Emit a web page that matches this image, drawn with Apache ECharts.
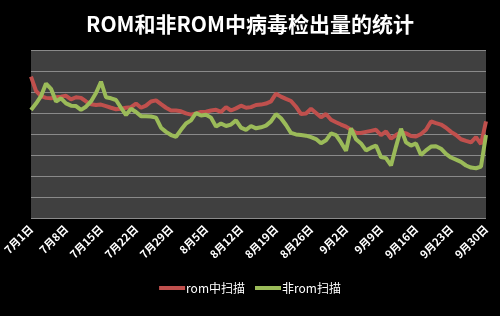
<!DOCTYPE html>
<html><head><meta charset="utf-8">
<script src="https://cdn.jsdelivr.net/npm/echarts@6/dist/echarts.min.js"></script>
<style>html,body{margin:0;padding:0;background:#000;}#c{width:500px;height:316px;}</style>
</head><body><div id="c"></div>
<script>
// Categories: daily dates 7月1日 .. 9月30日
var monthDays = [[7, 31], [8, 31], [9, 30]];
var categories = [];
monthDays.forEach(function (md) { for (var d = 1; d <= md[1]; d++) categories.push(md[0] + '月' + d + '日'); });

var romScan = [6.73,6.05,5.8,5.72,5.7,5.75,5.78,5.82,5.65,5.75,5.72,5.55,5.42,5.38,5.4,5.33,5.25,5.18,5.2,5.25,
5.28,5.45,5.25,5.35,5.55,5.6,5.42,5.25,5.12,5.12,5.08,4.98,4.92,4.98,5.05,5.06,5.12,5.15,5.05,5.28,
5.12,5.22,5.35,5.25,5.28,5.38,5.4,5.45,5.55,5.92,5.78,5.67,5.57,5.3,4.95,4.98,5.2,5.0,4.8,4.95,
4.68,4.56,4.45,4.35,4.2,4.05,4.05,4.1,4.15,4.2,3.95,4.12,3.78,3.95,4.08,4.03,3.9,3.88,4.0,4.2,
4.6,4.52,4.45,4.3,4.1,3.95,3.75,3.67,3.6,3.85,3.52,4.6];

var nonRomScan = [5.14,5.45,5.8,6.4,6.15,5.55,5.7,5.46,5.35,5.33,5.15,5.3,5.55,5.95,6.49,5.75,5.7,5.62,5.25,4.9,
5.2,5.05,4.85,4.85,4.83,4.78,4.3,4.1,3.95,3.87,4.2,4.5,4.65,5.0,4.88,4.92,4.78,4.35,4.5,4.38,
4.45,4.65,4.3,4.2,4.38,4.27,4.32,4.4,4.6,4.95,4.75,4.43,4.05,3.98,3.95,3.92,3.85,3.76,3.56,3.7,
4.03,3.95,3.6,3.2,4.27,3.75,3.55,3.22,3.35,3.45,2.9,2.85,2.5,3.4,4.25,3.6,3.45,3.55,3.0,3.22,
3.4,3.42,3.3,3.05,2.88,2.78,2.67,2.5,2.4,2.37,2.45,3.95];

var seriesNames = ['rom中扫描', '非rom扫描'];
var font = '"Noto Sans CJK SC", "Noto Sans", sans-serif';

var chart = echarts.init(document.getElementById('c'));
chart.setOption({
  backgroundColor: '#000',
  animation: false,
  title: {
    text: 'ROM和非ROM中病毒检出量的统计',
    left: 'center', top: 9,
    textStyle: { color: '#fff', fontSize: 21, fontWeight: 'bold', fontFamily: font }
  },
  legend: {
    data: seriesNames,
    bottom: 17, left: 'center',
    icon: 'rect', itemWidth: 26, itemHeight: 4, itemGap: 10,
    textStyle: { color: '#fff', fontSize: 12, fontFamily: font, padding: [0, 0, 0, -4] }
  },
  grid: {
    left: 31, right: 14, top: 50, bottom: 98,
    show: true, backgroundColor: '#404040', borderWidth: 0
  },
  xAxis: {
    type: 'category', data: categories, boundaryGap: false,
    axisLine: { show: false }, axisTick: { show: false },
    axisLabel: { interval: 6, rotate: 45, color: '#fff', fontSize: 11, fontWeight: 'bold', fontFamily: font, margin: 9 },
    splitLine: { show: false }
  },
  yAxis: {
    type: 'value', min: 0, max: 8, interval: 1,
    axisLabel: { show: false }, axisLine: { show: false }, axisTick: { show: false },
    splitLine: { lineStyle: { color: '#8a8a8a', width: 1 } }
  },
  series: [
    { name: seriesNames[0], type: 'line', data: romScan, showSymbol: false, symbol: 'none',
      lineStyle: { color: '#c0504d', width: 4 }, itemStyle: { color: '#c0504d' } },
    { name: seriesNames[1], type: 'line', data: nonRomScan, showSymbol: false, symbol: 'none',
      lineStyle: { color: '#9bbb59', width: 4 }, itemStyle: { color: '#9bbb59' } }
  ]
});
</script></body></html>
